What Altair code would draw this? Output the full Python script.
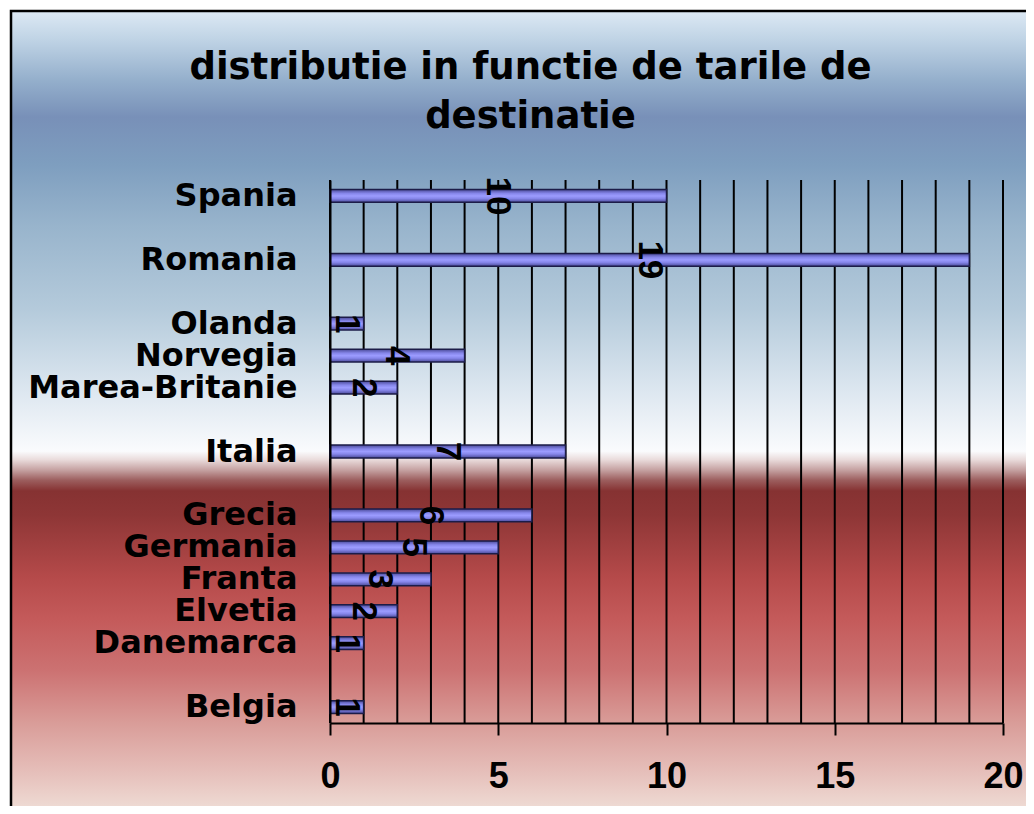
import altair as alt
import pandas as pd

# Category slots from top to bottom (blank slots are the empty gaps of the original axis)
slots = ["Spania", " ", "Romania", "  ", "Olanda", "Norvegia", "Marea-Britanie", "   ",
         "Italia", "    ", "Grecia", "Germania", "Franta", "Elvetia", "Danemarca", "     ", "Belgia"]
tari = ["Spania", "Romania", "Olanda", "Norvegia", "Marea-Britanie", "Italia",
        "Grecia", "Germania", "Franta", "Elvetia", "Danemarca", "Belgia"]
valori = [10, 19, 1, 4, 2, 7, 6, 5, 3, 2, 1, 1]
x_ticks = [0, 5, 10, 15, 20]
grid_values = [0, 1, 2, 3, 4, 5, 6, 7, 8, 9, 10, 11, 12, 13, 14, 15, 16, 17, 18, 19, 20]
title_lines = ["distributie in functie de tarile de", "destinatie"]

df = pd.DataFrame({"tara": tari, "valoare": valori})
grid_df = pd.DataFrame({"valoare": grid_values})

W, H = 673, 543

bg_stops = [
    (0.000, "#dde9f4"), (0.035, "#bfd3e5"), (0.085, "#93aecb"), (0.128, "#7890b8"),
    (0.185, "#7e9ebf"), (0.259, "#98b4cc"), (0.359, "#b4cadb"), (0.459, "#dde7f0"),
    (0.531, "#fafbfd"), (0.541, "#eadcdc"), (0.554, "#c4a0a0"), (0.566, "#9c5e5e"),
    (0.579, "#863232"), (0.608, "#8e3636"), (0.683, "#b54a4a"), (0.733, "#c45a5a"),
    (0.796, "#cc7272"), (0.858, "#d99c98"), (0.920, "#e6c0bb"), (0.960, "#eedad3"),
    (0.970, "#cdb5ae"), (0.983, "#a88a86"), (1.000, "#8a6262"),
]
bg_grad = alt.LinearGradient(
    gradient="linear",
    stops=[alt.GradientStop(offset=o, color=c) for o, c in bg_stops],
    x1=0, x2=0, y1=0, y2=1,
)
bar_grad = alt.LinearGradient(
    gradient="linear",
    stops=[alt.GradientStop(offset=0, color="#4a4a98"),
           alt.GradientStop(offset=0.3, color="#8686ea"),
           alt.GradientStop(offset=0.5, color="#9c9cff"),
           alt.GradientStop(offset=0.7, color="#8686ea"),
           alt.GradientStop(offset=1, color="#4a4a98")],
    x1=0, x2=0, y1=0, y2=1,
)

x_scale = alt.Scale(domain=[0, 20], nice=False, zero=True)
x_axis = alt.Axis(values=x_ticks, grid=False, domainColor="black", domainWidth=2,
                  tickColor="black", tickWidth=2, tickSize=12, labelFlush=False,
                  labelFont="Liberation Sans", labelFontSize=36, labelFontWeight="bold",
                  labelColor="black", labelPadding=24, title=None, zindex=1)
y_scale = alt.Scale(domain=slots, paddingInner=0.6, paddingOuter=0.3)
y_axis = alt.Axis(ticks=False, domainColor="black", domainWidth=2,
                  labelFont="DejaVu Sans", labelFontSize=32, labelFontWeight="bold",
                  labelColor="black", labelPadding=33, labelLimit=400, title=None, zindex=1)

bg = alt.Chart(alt.Data(values=[{}])).mark_rect(
    fill=bg_grad, stroke="black", strokeWidth=2.5
).encode(
    x=alt.value(-319), x2=alt.value(760), y=alt.value(-169), y2=alt.value(660)
)

grid = alt.Chart(grid_df).mark_rule(color="black", strokeWidth=2).encode(
    x=alt.X("valoare:Q", scale=x_scale, axis=x_axis)
)

bars = alt.Chart(df).mark_bar(fill=bar_grad, stroke="#1c1c48", strokeWidth=1.5).encode(
    x=alt.X("valoare:Q", scale=x_scale, axis=x_axis),
    y=alt.Y("tara:N", scale=y_scale, axis=y_axis),
)

labels = alt.Chart(df).transform_calculate(mid="datum.valoare / 2").mark_text(
    angle=90, align="center", baseline="middle", font="Liberation Sans",
    fontSize=35, fontWeight="bold", color="black"
).encode(
    x=alt.X("mid:Q", scale=x_scale, axis=x_axis),
    y=alt.Y("tara:N", scale=y_scale, axis=y_axis),
    text=alt.Text("valoare:Q"),
)

chart = alt.layer(bg, grid, bars, labels).properties(
    width=W, height=H,
    title=alt.TitleParams(text=title_lines, font="DejaVu Sans", fontSize=37,
                          fontWeight="bold", color="black", anchor="middle",
                          frame="group", baseline="bottom",
                          dx=-136, offset=-163, lineHeight=49),
    autosize=alt.AutoSizeParams(type="none"),
    padding={"left": 322, "top": 172, "right": 23, "bottom": 83},
).configure_view(stroke=None)

chart.save("out.html", embed_options={"renderer": "svg", "actions": False})
